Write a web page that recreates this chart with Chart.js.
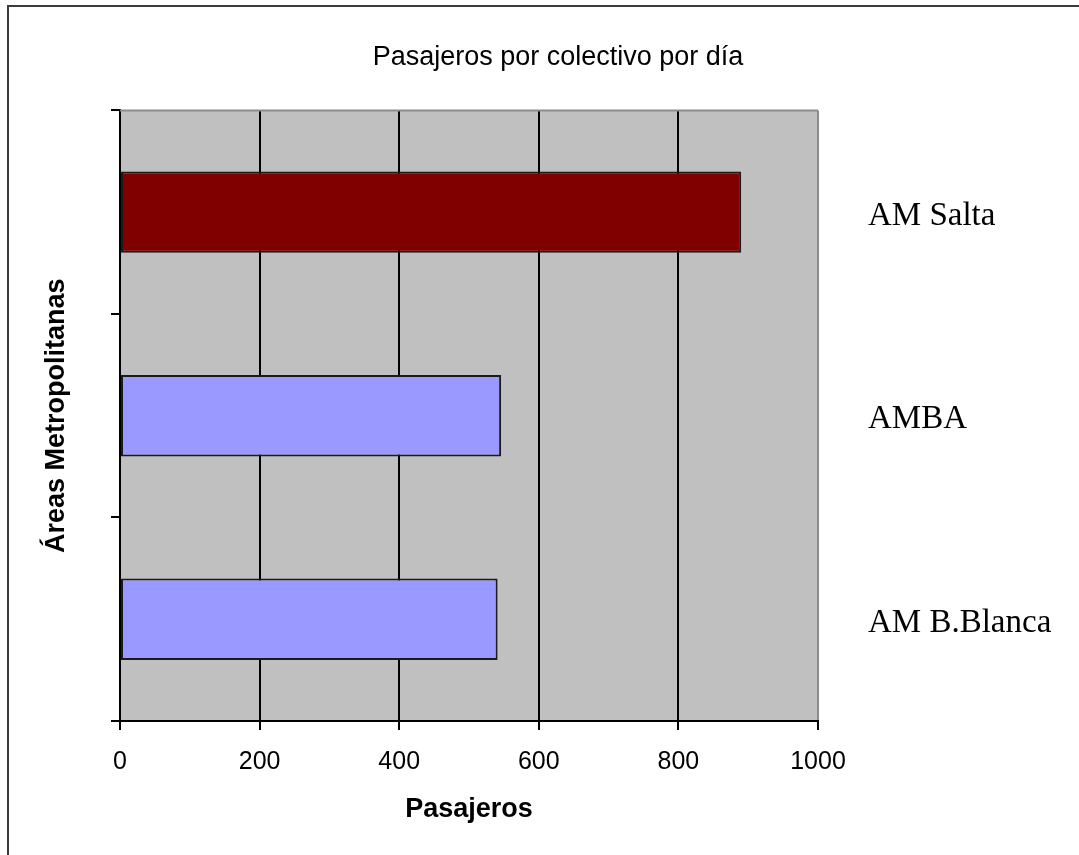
<!DOCTYPE html>
<html lang="es">
<head>
<meta charset="utf-8">
<title>Pasajeros por colectivo por día</title>
<script src="https://cdn.jsdelivr.net/npm/chart.js@4.4.1/dist/chart.umd.min.js"></script>
<style>
  html, body { margin: 0; padding: 0; background: #fff; }
  #wrap { position: relative; width: 1079px; height: 855px; overflow: hidden; }
  #chart { position: absolute; left: 0; top: 0; }
  #frame {
    position: absolute; left: 7px; top: 5px; right: -10px; bottom: -10px;
    border-top: 2px solid #3c3c3c; border-left: 2px solid #3c3c3c;
    pointer-events: none;
  }
</style>
</head>
<body>
<div id="wrap">
  <canvas id="chart" width="1079" height="855"></canvas>
  <div id="frame"></div>
</div>
<script>
// Áreas metropolitanas y pasajeros diarios por colectivo
const categories = ['AM Salta', 'AMBA', 'AM B.Blanca'];
const passengers = [890, 546, 541];
const barColors = ['#800000', '#9999FF', '#9999FF'];
const xMin = 0;
const xMax = 1000;
const xStep = 200;

const chartTitle = 'Pasajeros por colectivo por día';
const xTitle = 'Pasajeros';
const yTitle = 'Áreas Metropolitanas';

// Gray plot background plus the light frame on its top edge
const plotBackground = {
  id: 'plotBackground',
  beforeDraw(chart) {
    const { ctx, chartArea: a } = chart;
    ctx.save();
    ctx.fillStyle = '#C0C0C0';
    ctx.fillRect(a.left, a.top, a.right - a.left, a.bottom - a.top);
    ctx.restore();
  },
  beforeDatasetsDraw(chart) {
    const { ctx, chartArea: a } = chart;
    ctx.save();
    ctx.strokeStyle = '#8c8c8c';
    ctx.lineWidth = 2;
    ctx.beginPath();
    ctx.moveTo(a.left, a.top);
    ctx.lineTo(a.right, a.top);
    ctx.stroke();
    ctx.restore();
  }
};

new Chart(document.getElementById('chart'), {
  type: 'bar',
  data: {
    labels: categories,
    datasets: [{
      data: passengers,
      backgroundColor: barColors,
      borderColor: '#1a1a1a',
      borderWidth: 2,
      borderSkipped: false,
      barPercentage: 0.4,
      categoryPercentage: 1.0,
      yAxisID: 'y'
    }]
  },
  options: {
    indexAxis: 'y',
    responsive: false,
    animation: false,
    devicePixelRatio: 1,
    layout: { padding: { left: 37, right: 0, top: 0, bottom: 0 } },
    plugins: {
      legend: { display: false },
      tooltip: { enabled: false },
      title: {
        display: true,
        text: chartTitle,
        color: '#000',
        font: { family: 'Liberation Sans', size: 27, weight: 'normal' },
        padding: { top: 41, bottom: 37 }
      }
    },
    scales: {
      x: {
        type: 'linear',
        position: 'bottom',
        min: xMin,
        max: xMax,
        afterFit(s) { s.height = 134; },
        ticks: {
          stepSize: xStep,
          color: '#000',
          padding: 17,
          font: { family: 'Liberation Sans', size: 25 },
          callback: (v) => String(v)
        },
        grid: {
          color: (c) => (c.tick && c.tick.value === xMax ? '#8c8c8c' : '#000'),
          tickColor: '#000',
          lineWidth: 2,
          tickLength: 9
        },
        border: { display: true, color: '#000', width: 2 },
        title: {
          display: true,
          text: xTitle,
          color: '#000',
          font: { family: 'Liberation Sans', size: 27, weight: 'bold' },
          padding: { top: 0, bottom: 29 }
        }
      },
      y: {
        type: 'category',
        position: 'left',
        offset: true,
        afterFit(s) { s.width = 83; },
        ticks: { display: false },
        grid: {
          offset: true,
          drawOnChartArea: false,
          drawTicks: true,
          tickLength: 9,
          color: '#000',
          lineWidth: 2
        },
        border: { display: true, color: '#000', width: 2 },
        title: {
          display: true,
          text: yTitle,
          color: '#000',
          font: { family: 'Liberation Sans', size: 27, weight: 'bold' },
          padding: { top: 3, bottom: 0 }
        }
      },
      y2: {
        type: 'category',
        position: 'right',
        offset: true,
        afterFit(s) { s.width = 261; },
        grid: { display: false, drawTicks: false, drawOnChartArea: false },
        border: { display: false },
        ticks: {
          color: '#000',
          padding: 50,
          labelOffset: 4,
          crossAlign: 'near',
          font: { family: 'Liberation Serif', size: 33 }
        }
      }
    }
  },
  plugins: [plotBackground]
});
</script>
</body>
</html>
